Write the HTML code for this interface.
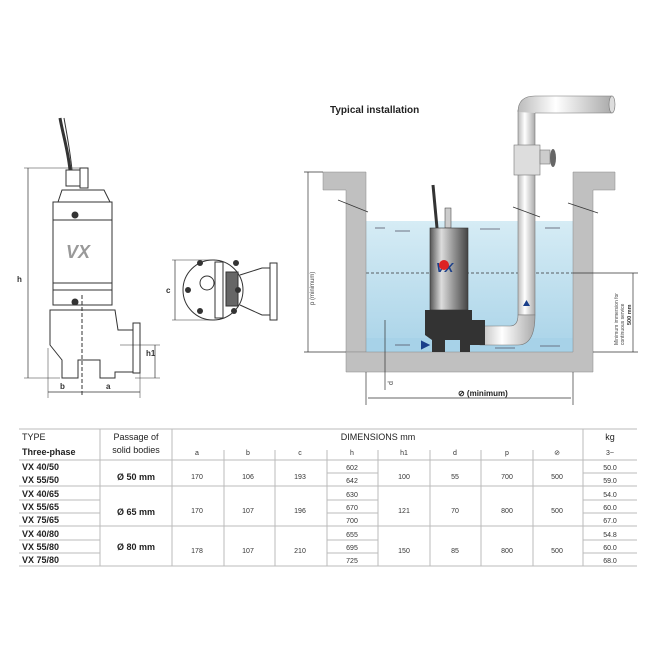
<!DOCTYPE html>
<html><head><style>
body{margin:0;background:#fff;}
svg{display:block;font-family:"Liberation Sans",sans-serif;}
</style></head><body>
<svg width="650" height="650" viewBox="0 0 650 650" xmlns="http://www.w3.org/2000/svg">
<defs>
<linearGradient id="steel" x1="0" x2="1"><stop offset="0" stop-color="#555"/><stop offset=".3" stop-color="#ddd"/><stop offset=".6" stop-color="#999"/><stop offset="1" stop-color="#444"/></linearGradient>
<linearGradient id="water" x1="0" y1="0" x2="0" y2="1"><stop offset="0" stop-color="#d6ecf5"/><stop offset="1" stop-color="#a9d3e8"/></linearGradient>
<linearGradient id="pipe" x1="0" x2="1"><stop offset="0" stop-color="#bbb"/><stop offset=".4" stop-color="#fff"/><stop offset="1" stop-color="#aaa"/></linearGradient>
</defs>
<g fill="none" stroke="#333" stroke-width="1">
<path d="M60 118 C63 135 68 150 70 170" stroke-width="3"/>
<path d="M64 118 C67 135 70 150 72 170"/>
<rect x="66" y="170" width="14" height="16"/>
<rect x="80" y="168" width="8" height="20"/>
<path d="M58 202 L62 190 L104 190 L110 202 Z"/>
<rect x="53" y="202" width="59" height="103" fill="#fff"/>
<line x1="53" y1="220" x2="112" y2="220"/>
<line x1="53" y1="283" x2="112" y2="283"/>
<line x1="53" y1="290" x2="112" y2="290"/>
<circle cx="75" cy="215" r="3" fill="#333"/>
<circle cx="75" cy="302" r="3" fill="#333"/>
<path d="M50 310 L115 310 L118 330 L133 330 L133 372 L115 372 L115 378 L100 378 L100 360 L78 360 L78 378 L62 378 L62 360 L50 345 Z"/>
<rect x="133" y="323" width="7" height="50"/>
<line x1="82" y1="295" x2="82" y2="395" stroke-dasharray="4,2"/>
<line x1="28" y1="168" x2="28" y2="378" stroke-width=".7"/>
<line x1="24" y1="168" x2="80" y2="168" stroke-width=".5"/>
<line x1="24" y1="378" x2="60" y2="378" stroke-width=".5"/>
<line x1="48" y1="348" x2="48" y2="398" stroke-width=".5"/>
<line x1="140" y1="345" x2="140" y2="398" stroke-width=".5"/>
<line x1="48" y1="392" x2="140" y2="392" stroke-width=".7"/>
<line x1="155" y1="345" x2="155" y2="378" stroke-width=".7"/>
<line x1="120" y1="345" x2="160" y2="345" stroke-width=".5"/>
<line x1="135" y1="378" x2="160" y2="378" stroke-width=".5"/>
<circle cx="213" cy="290" r="30"/>
<path d="M240 275 L262 268 L270 268 L270 315 L262 315 L240 305"/>
<rect x="270" y="263" width="7" height="57"/>
<rect x="215" y="262" width="8" height="56"/>
<rect x="226" y="272" width="12" height="34" fill="#666"/>
<circle cx="207" cy="283" r="7"/>
<line x1="175" y1="260" x2="175" y2="320" stroke-width=".7"/>
<line x1="172" y1="260" x2="215" y2="260" stroke-width=".5"/>
<line x1="172" y1="320" x2="215" y2="320" stroke-width=".5"/>
</g>
<g fill="#333">
<circle cx="200" cy="263" r="3"/><circle cx="236" cy="263" r="3"/><circle cx="188" cy="290" r="3"/><circle cx="238" cy="290" r="3"/><circle cx="200" cy="311" r="3"/><circle cx="234" cy="311" r="3"/>
</g>
<text x="66" y="258" font-size="18" font-weight="bold" font-style="italic" fill="#999">VX</text>
<g font-size="8" font-weight="bold" fill="#333">
<text x="17" y="282">h</text><text x="60" y="389">b</text><text x="106" y="389">a</text><text x="146" y="356">h1</text><text x="166" y="293">c</text>
</g>
<text x="330" y="113" font-size="10" font-weight="bold" fill="#222">Typical installation</text>
<rect x="366" y="221" width="207" height="131" fill="url(#water)"/>
<rect x="366" y="338" width="207" height="14" fill="#a7d2e8"/>
<g stroke="#556" stroke-width=".8">
<line x1="375" y1="228" x2="385" y2="228"/><line x1="395" y1="231" x2="410" y2="231"/><line x1="480" y1="229" x2="500" y2="229"/><line x1="545" y1="228" x2="560" y2="228"/>
<line x1="395" y1="345" x2="410" y2="345"/><line x1="495" y1="348" x2="515" y2="348"/><line x1="540" y1="346" x2="560" y2="346"/>
</g>
<line x1="366" y1="273" x2="573" y2="273" stroke="#333" stroke-dasharray="3,2" stroke-width=".8"/>
<g fill="#c0c0c0" stroke="#888" stroke-width=".5">
<path d="M323 172 L366 172 L366 352 L346 352 L346 190 L323 190 Z"/>
<path d="M573 172 L615 172 L615 190 L593 190 L593 372 L346 372 L346 352 L573 352 Z"/>
</g>
<rect x="518" y="110" width="17" height="205" fill="url(#pipe)" stroke="#777" stroke-width=".6"/>
<path d="M518 112 Q518 96 535 96 L612 96 L612 113 L535 113" fill="url(#pipe)" stroke="#777" stroke-width=".6"/>
<ellipse cx="612" cy="104.5" rx="3" ry="8.5" fill="#ddd" stroke="#777" stroke-width=".6"/>
<rect x="514" y="145" width="26" height="30" fill="#ddd" stroke="#777" stroke-width=".6"/>
<rect x="540" y="150" width="10" height="14" fill="#ccc" stroke="#777" stroke-width=".6"/>
<ellipse cx="553" cy="158" rx="3" ry="9" fill="#666"/>
<path d="M535 315 Q535 345 518 345 L480 345 L480 326 L510 326 Q518 326 518 315 Z" fill="url(#pipe)" stroke="#777" stroke-width=".6"/>
<path d="M523 306 L526.5 300 L530 306 Z" fill="#1a3f8a"/>
<path d="M422 342 L428 345 L422 348 Z" fill="#1a3f8a" stroke="#1a3f8a" stroke-width="2"/>
<path d="M433 185 L437 228" stroke="#333" stroke-width="3"/>
<rect x="445" y="208" width="6" height="20" fill="#ccc" stroke="#333" stroke-width=".5"/>
<rect x="430" y="228" width="38" height="82" fill="url(#steel)" stroke="#333" stroke-width=".6"/>
<text x="436" y="272" font-size="13" font-weight="bold" font-style="italic" fill="#1a3f8a">VX</text>
<circle cx="444" cy="265" r="5" fill="#d22"/>
<path d="M425 310 L472 310 L472 320 L485 320 L485 345 L470 345 L470 352 L460 352 L460 340 L445 340 L445 352 L432 352 L432 340 L425 335 Z" fill="#333"/>
<g stroke="#333" stroke-width=".7" fill="none">
<line x1="308" y1="172" x2="308" y2="352"/><line x1="304" y1="172" x2="323" y2="172"/><line x1="304" y1="352" x2="346" y2="352"/>
<line x1="633" y1="273" x2="633" y2="352"/><line x1="573" y1="273" x2="638" y2="273"/><line x1="593" y1="352" x2="638" y2="352"/>
<line x1="385" y1="320" x2="385" y2="390"/>
<line x1="366" y1="372" x2="366" y2="405"/><line x1="573" y1="372" x2="573" y2="405"/>
<line x1="368" y1="398" x2="571" y2="398"/>
<line x1="338" y1="200" x2="368" y2="212"/><line x1="513" y1="207" x2="540" y2="217"/><line x1="568" y1="203" x2="598" y2="213"/>
</g>
<text x="458" y="396" font-size="8" font-weight="bold" fill="#222">⊘ (minimum)</text>
<text transform="translate(314,305) rotate(-90)" font-size="6" fill="#444">p (minimum)</text>
<text transform="translate(393,385) rotate(-90)" font-size="7" fill="#444">d</text>
<text transform="translate(618,345) rotate(-90)" font-size="5" fill="#444">Minimum immersion for</text>
<text transform="translate(624,345) rotate(-90)" font-size="5" fill="#444">continuous service</text>
<text transform="translate(631,325) rotate(-90)" font-size="5.5" font-weight="bold" fill="#333">500 mm</text>
<g stroke="#bbb" stroke-width="1">
<line x1="19" y1="429" x2="637" y2="429"/>
<line x1="19" y1="460" x2="637" y2="460"/>
<line x1="19" y1="486" x2="637" y2="486"/>
<line x1="19" y1="526" x2="637" y2="526"/>
<line x1="19" y1="566" x2="637" y2="566"/>
<line x1="19" y1="500" x2="100" y2="500"/><line x1="19" y1="513" x2="100" y2="513"/>
<line x1="19" y1="540" x2="100" y2="540"/><line x1="19" y1="553" x2="100" y2="553"/>
<line x1="327" y1="473" x2="378" y2="473"/><line x1="327" y1="500" x2="378" y2="500"/><line x1="327" y1="513" x2="378" y2="513"/><line x1="327" y1="540" x2="378" y2="540"/><line x1="327" y1="553" x2="378" y2="553"/>
<line x1="583" y1="473" x2="637" y2="473"/><line x1="583" y1="500" x2="637" y2="500"/><line x1="583" y1="513" x2="637" y2="513"/><line x1="583" y1="540" x2="637" y2="540"/><line x1="583" y1="553" x2="637" y2="553"/>
<line x1="100" y1="429" x2="100" y2="566"/><line x1="172" y1="429" x2="172" y2="566"/><line x1="583" y1="429" x2="583" y2="566"/>
<line x1="224" y1="450" x2="224" y2="566"/><line x1="275" y1="450" x2="275" y2="566"/><line x1="327" y1="450" x2="327" y2="566"/><line x1="378" y1="450" x2="378" y2="566"/><line x1="430" y1="450" x2="430" y2="566"/><line x1="481" y1="450" x2="481" y2="566"/><line x1="533" y1="450" x2="533" y2="566"/>
</g>
<g font-size="9" fill="#222">
<text x="22" y="440">TYPE</text>
<text x="22" y="455" font-weight="bold">Three-phase</text>
<text x="136" y="440" text-anchor="middle">Passage of</text>
<text x="136" y="453" text-anchor="middle">solid bodies</text>
<text x="378" y="440" text-anchor="middle">DIMENSIONS mm</text>
<text x="610" y="440" text-anchor="middle">kg</text>
</g>
<g font-size="7" fill="#333" text-anchor="middle">
<text x="197" y="455">a</text><text x="248" y="455">b</text><text x="300" y="455">c</text><text x="352" y="455">h</text><text x="404" y="455">h1</text><text x="455" y="455">d</text><text x="507" y="455">p</text><text x="557" y="455">⊘</text><text x="610" y="455">3~</text>
</g>
<g font-size="9" font-weight="bold" fill="#222">
<text x="22" y="470">VX 40/50</text><text x="22" y="483">VX 55/50</text>
<text x="22" y="497">VX 40/65</text><text x="22" y="510">VX 55/65</text><text x="22" y="523">VX 75/65</text>
<text x="22" y="537">VX 40/80</text><text x="22" y="550">VX 55/80</text><text x="22" y="563">VX 75/80</text>
</g>
<g font-size="9" font-weight="bold" fill="#222" text-anchor="middle">
<text x="136" y="480">Ø 50 mm</text><text x="136" y="515">Ø 65 mm</text><text x="136" y="550">Ø 80 mm</text>
</g>
<g font-size="7" fill="#333" text-anchor="middle">
<text x="197" y="479">170</text><text x="248" y="479">106</text><text x="300" y="479">193</text><text x="404" y="479">100</text><text x="455" y="479">55</text><text x="507" y="479">700</text><text x="557" y="479">500</text>
<text x="352" y="470">602</text><text x="352" y="483">642</text>
<text x="610" y="470">50.0</text><text x="610" y="483">59.0</text>
<text x="197" y="513">170</text><text x="248" y="513">107</text><text x="300" y="513">196</text><text x="404" y="513">121</text><text x="455" y="513">70</text><text x="507" y="513">800</text><text x="557" y="513">500</text>
<text x="352" y="497">630</text><text x="352" y="510">670</text><text x="352" y="523">700</text>
<text x="610" y="497">54.0</text><text x="610" y="510">60.0</text><text x="610" y="523">67.0</text>
<text x="197" y="553">178</text><text x="248" y="553">107</text><text x="300" y="553">210</text><text x="404" y="553">150</text><text x="455" y="553">85</text><text x="507" y="553">800</text><text x="557" y="553">500</text>
<text x="352" y="537">655</text><text x="352" y="550">695</text><text x="352" y="563">725</text>
<text x="610" y="537">54.8</text><text x="610" y="550">60.0</text><text x="610" y="563">68.0</text>
</g>
</svg>
</body></html>
